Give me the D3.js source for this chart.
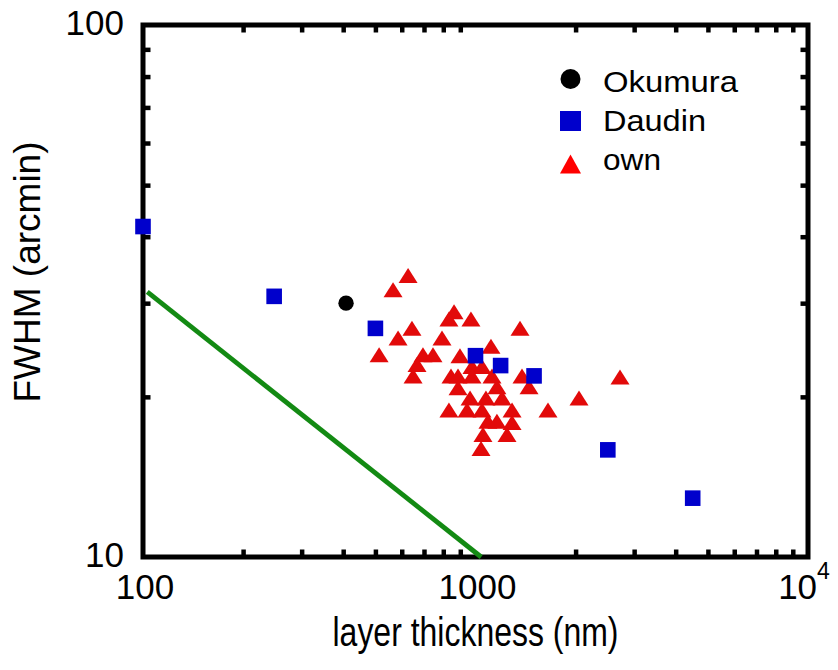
<!DOCTYPE html>
<html>
<head>
<meta charset="utf-8">
<script src="https://cdn.jsdelivr.net/npm/d3@7"></script>
<style>
body{margin:0;background:#fff;}
text{font-family:"Liberation Sans",Arial,sans-serif;fill:#000;}
</style>
</head>
<body>
<div id="chart"></div>
<script>
// values
var okumuraX = [408];
var okumuraY = [30.0];

var daudinX = [100, 248, 500, 1000, 1190, 1500, 2500, 4500];
var daudinY = [41.8, 30.9, 26.9, 23.9, 22.9, 21.9, 15.9, 12.9];

var ownX = [627, 565, 862, 832, 969, 1361, 644, 585, 793, 1113,
	513, 695, 745, 898, 667, 976, 1046, 649, 844, 886,
	976, 1121, 1380, 2720, 886, 1160, 1449, 963, 1075, 1202,
	2048, 832, 943, 1046, 1288, 1652, 1090, 1160, 1288, 1053,
	1244, 1039];
var ownY = [33.8, 31.8, 28.9, 28.0, 28.0, 26.9, 26.9, 25.8, 25.8, 24.9,
	24.0, 24.0, 24.0, 23.9, 23.0, 22.8, 22.8, 21.9, 21.9, 21.9,
	21.9, 21.9, 21.9, 21.8, 20.8, 20.9, 20.9, 19.9, 19.9, 19.9,
	19.9, 18.9, 18.9, 18.9, 18.9, 18.9, 18.0, 18.0, 17.9, 17.0,
	17.0, 16.0];

var lineX = [103, 1040];
var lineY = [31.5, 10];

var xMajor = [100, 1000, 10000];
var yMajor = [10, 100];
var xMinor = [200, 300, 400, 500, 600, 700, 800, 900, 2000, 3000, 4000, 5000, 6000, 7000, 8000, 9000];
var yMinor = [20, 30, 40, 50, 60, 70, 80, 90];
var legendNames = ["Okumura", "Daudin", "own"];

(function(){
	var width = 838,
	height = 670;

	var svg = d3.select("#chart")
		.append("svg")
		.attr("width", width)
		.attr("height", height);

	var x = d3.scaleLog().domain([100, 10000]).range([143, 808]);
	var y = d3.scaleLog().domain([10, 100]).range([557, 25]);

	// inward minor ticks on all four sides
	var tk = -7.5;
	function styleTicks(g){
		g.select(".domain").remove();
		g.selectAll(".tick line").attr("stroke", "#000").attr("stroke-width", 4.5);
	}
	svg.append("g").attr("transform", "translate(0,557)")
		.call(d3.axisBottom(x).tickValues(xMinor).tickSize(tk).tickFormat(""))
		.call(styleTicks);
	svg.append("g").attr("transform", "translate(0,25)")
		.call(d3.axisTop(x).tickValues(xMinor).tickSize(tk).tickFormat(""))
		.call(styleTicks);
	svg.append("g").attr("transform", "translate(143,0)")
		.call(d3.axisLeft(y).tickValues(yMinor).tickSize(tk).tickFormat(""))
		.call(styleTicks);
	svg.append("g").attr("transform", "translate(808,0)")
		.call(d3.axisRight(y).tickValues(yMinor).tickSize(tk).tickFormat(""))
		.call(styleTicks);

	// frame
	svg.append("rect")
		.attr("x", 143).attr("y", 25)
		.attr("width", 665).attr("height", 532)
		.attr("fill", "none")
		.attr("stroke", "#000")
		.attr("stroke-width", 5);

	// tick labels
	var xl = svg.selectAll(".xlab")
		.data(xMajor)
		.enter().append("text")
		.attr("class", "xlab")
		.attr("x", function(d){ return x(d) + (d === 10000 ? -4 : 2); })
		.attr("y", 599)
		.attr("text-anchor", "middle")
		.style("font-size", "35px");
	xl.each(function(d){
		var t = d3.select(this);
		if (d === 10000) {
			t.append("tspan").text("10");
			t.append("tspan").attr("dy", -20).style("font-size", "23px").text("4");
		} else {
			t.text(d);
		}
	});

	svg.selectAll(".ylab")
		.data(yMajor)
		.enter().append("text")
		.attr("class", "ylab")
		.attr("x", 124)
		.attr("y", function(d){ return y(d) + 9.5; })
		.attr("text-anchor", "end")
		.style("font-size", "35px")
		.text(function(d){ return d; });

	// axis titles
	svg.append("text")
		.attr("x", 475.5)
		.attr("y", 646)
		.attr("text-anchor", "middle")
		.attr("textLength", 286)
		.attr("lengthAdjust", "spacingAndGlyphs")
		.style("font-size", "40px")
		.text("layer thickness (nm)");

	svg.append("text")
		.attr("transform", "translate(40,272) rotate(-90)")
		.attr("text-anchor", "middle")
		.style("font-size", "37px")
		.text("FWHM (arcmin)");

	// green reference line
	var line = d3.line()
		.x(function(d){ return x(d[0]); })
		.y(function(d){ return y(d[1]); });
	svg.append("path")
		.datum(d3.zip(lineX, lineY))
		.attr("d", line)
		.attr("fill", "none")
		.attr("stroke", "#138a13")
		.attr("stroke-width", 4.8);

	// own (triangles)
	var tri = "M0,-7.5L9.5,7.5L-9.5,7.5Z";
	svg.selectAll(".own")
		.data(d3.zip(ownX, ownY))
		.enter().append("path")
		.attr("class", "own")
		.attr("d", tri)
		.attr("transform", function(d){ return "translate(" + x(d[0]) + "," + y(d[1]) + ")"; })
		.attr("fill", "#e20a0a");

	// Okumura
	svg.selectAll(".oku")
		.data(d3.zip(okumuraX, okumuraY))
		.enter().append("circle")
		.attr("class", "oku")
		.attr("cx", function(d){ return x(d[0]); })
		.attr("cy", function(d){ return y(d[1]); })
		.attr("r", 7.7)
		.attr("fill", "#000");

	// Daudin (squares)
	svg.selectAll(".dau")
		.data(d3.zip(daudinX, daudinY))
		.enter().append("rect")
		.attr("class", "dau")
		.attr("x", function(d){ return x(d[0]) - 7.8; })
		.attr("y", function(d){ return y(d[1]) - 7.8; })
		.attr("width", 15.6)
		.attr("height", 15.6)
		.attr("fill", "#0000cc");

	// legend
	var lg = svg.append("g");
	var lx = 570.5;
	lg.append("circle").attr("cx", lx).attr("cy", 79).attr("r", 10).attr("fill", "#000");
	lg.append("rect").attr("x", lx - 10.5).attr("y", 111).attr("width", 21).attr("height", 20).attr("fill", "#0000cc");
	lg.append("path").attr("d", "M0,-9.5L10.5,9.5L-10.5,9.5Z")
		.attr("transform", "translate(" + lx + ",164)")
		.attr("fill", "#ff0000");

	var textW = [135, 103, 58];
	lg.selectAll(".lt")
		.data(legendNames)
		.enter().append("text")
		.attr("class", "lt")
		.attr("x", 603)
		.attr("y", function(d, i){ return 92 + i * 39; })
		.attr("textLength", function(d, i){ return textW[i]; })
		.attr("lengthAdjust", "spacingAndGlyphs")
		.style("font-size", "29px")
		.text(function(d){ return d; });
})();
</script>
</body>
</html>
